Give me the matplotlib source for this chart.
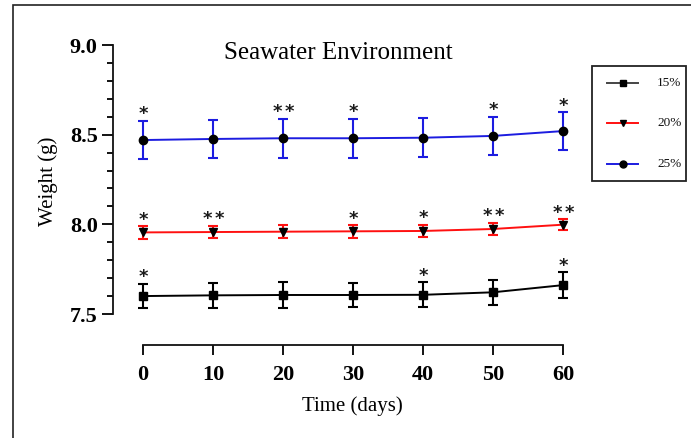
import matplotlib
matplotlib.use("Agg")
import matplotlib.pyplot as plt
from matplotlib.patches import Rectangle
from matplotlib.lines import Line2D
from matplotlib.ticker import FixedLocator

# Sampling days
days = [0, 10, 20, 30, 40, 50, 60]

# Mean weight (g) and SD for each concentration
w15 = [7.600, 7.604, 7.606, 7.606, 7.607, 7.621, 7.661]
e15 = [0.069, 0.069, 0.070, 0.069, 0.069, 0.069, 0.072]
w20 = [7.955, 7.957, 7.959, 7.961, 7.963, 7.974, 7.998]
e20 = [0.035, 0.035, 0.035, 0.035, 0.035, 0.035, 0.032]
w25 = [8.470, 8.476, 8.480, 8.480, 8.483, 8.493, 8.520]
e25 = [0.108, 0.108, 0.108, 0.108, 0.108, 0.108, 0.106]

# Significance marks per sampling day
sig15 = ["*", "", "", "", "*", "", "*"]
sig20 = ["*", "**", "", "*", "*", "**", "**"]
sig25 = ["*", "", "**", "*", "", "*", "*"]

labels = ["15%", "20%", "25%"]
yticks = [7.5, 8.0, 8.5, 9.0]
ytick_labels = ["7.5", "8.0", "8.5", "9.0"]
yminor = [7.6, 7.7, 7.8, 7.9, 8.1, 8.2, 8.3, 8.4, 8.6, 8.7, 8.8, 8.9]

SERIF = ["Liberation Serif", "DejaVu Serif"]
STAR_FONT = ["DejaVu Sans"]

W, H, DPI = 691, 438, 100
fig = plt.figure(figsize=(W / DPI, H / DPI), dpi=DPI)


def fx(px):
    return px / W


def fy(py):
    return 1 - py / H


# outer panel frame
fig.patches.append(Rectangle((fx(12.5), -0.1), 1.2, fy(4.5) + 0.1,
                             transform=fig.transFigure, fill=False,
                             edgecolor="#222222", linewidth=1.2))

ax = fig.add_axes([fx(113), fy(345), 450 / W, 300 / H])
px_x = 420 / 60.0
px_y = 269 / 1.5
ax.set_xlim(-30 / px_x, 60)
ax.set_ylim(7.5 - 31 / px_y, 9.0)

for s in ("top", "right"):
    ax.spines[s].set_visible(False)
ax.spines["left"].set_bounds(7.5, 9.0)
ax.spines["bottom"].set_bounds(0, 60)
for s in ("left", "bottom"):
    ax.spines[s].set_linewidth(1.3)
    ax.spines[s].set_color("#111111")

ax.set_xticks(days)
ax.set_xticklabels([str(d) for d in days])
ax.set_yticks(yticks)
ax.set_yticklabels(ytick_labels)
ax.yaxis.set_minor_locator(FixedLocator(yminor))
ax.tick_params(axis="y", which="major", direction="out", length=8, width=1.3, pad=3)
ax.tick_params(axis="y", which="minor", direction="out", length=4.5, width=1.3)
ax.tick_params(axis="x", which="major", direction="out", length=7.5, width=1.3, pad=7)
ax.tick_params(axis="x", which="minor", length=0)
for lab in ax.get_xticklabels() + ax.get_yticklabels():
    lab.set_fontfamily(SERIF)
    lab.set_fontweight("bold")
    lab.set_fontsize(16)

series = [
    (w15, e15, "black", "black", "s", sig15),
    (w20, e20, "#ff1010", "black", "v", sig20),
    (w25, e25, "#1c1ce0", "black", "o", sig25),
]
for (w, e, col, mcol, mk, sig), lab in zip(series, labels):
    ax.errorbar(days, w, yerr=e, color=col, ecolor=col, elinewidth=1.5,
                capsize=3.5, capthick=1.5, linewidth=1.4, fmt="none",
                clip_on=False, zorder=2)
    ax.plot(days, w, color=col, linewidth=1.4, marker=mk, markersize=6,
            markerfacecolor=mcol, markeredgecolor=mcol, clip_on=False,
            zorder=3, label=lab)
    for d, val, err, s in zip(days, w, e, sig):
        n = len(s)
        for k in range(n):
            dx = (k - (n - 1) / 2) * 8.5
            ax.annotate("*", (d, val + err), xytext=(dx, 1.0),
                        textcoords="offset points", ha="center",
                        va="baseline", fontsize=13, fontweight="bold",
                        family=STAR_FONT, color="#1a1a1a",
                        annotation_clip=False)

fig.text(fx(338), fy(59), "Seawater Environment", ha="center",
         va="baseline", fontsize=18, family=SERIF)
fig.text(fx(48), fy(181), "Weight (g)", ha="center", va="center",
         rotation=90, fontsize=15, family=SERIF)
fig.text(fx(352), fy(406), "Time (days)", ha="center", va="center",
         fontsize=15, family=SERIF)

# key box
fig.patches.append(Rectangle((fx(592), fy(181)), (686 - 592) / W, (181 - 66) / H,
                             transform=fig.transFigure, fill=False,
                             edgecolor="#222222", linewidth=1.3))
key_rows = [83, 123, 164]
key_colors = ["#444444", "#ff1010", "#1c1ce0"]
for (w, e, col, mcol, mk, sig), kcol, lab, ky in zip(series, key_colors, labels, key_rows):
    fig.add_artist(Line2D([fx(607), fx(638)], [fy(ky), fy(ky)], color=kcol,
                          linewidth=1.4, transform=fig.transFigure))
    fig.add_artist(Line2D([fx(622.5)], [fy(ky)], marker=mk, markersize=5,
                          color=mcol, linestyle="none",
                          transform=fig.transFigure))
    fig.text(fx(657), fy(ky), lab, ha="left", va="center", fontsize=9.5,
             family=SERIF, color="#111111")

fig.savefig("out.png", dpi=DPI)
